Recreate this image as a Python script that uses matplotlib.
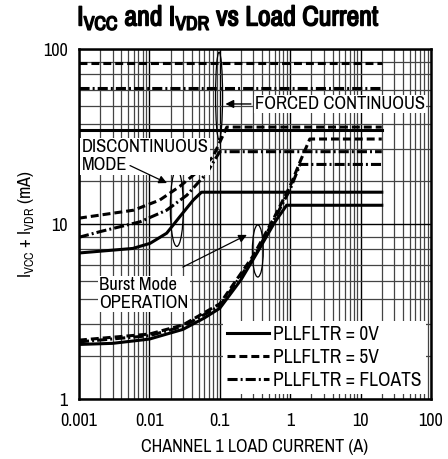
import numpy as np
import matplotlib
matplotlib.use('Agg')
import matplotlib.pyplot as plt
import matplotlib.patheffects as pe
from matplotlib.patches import Ellipse
from matplotlib.ticker import FixedLocator, NullFormatter

plt.rcParams['font.family'] = ['Archivo Narrow', 'DejaVu Sans']
plt.rcParams['mathtext.fontset'] = 'custom'
plt.rcParams['mathtext.rm'] = 'Archivo Narrow'
plt.rcParams['mathtext.bf'] = 'Archivo Narrow'

# forced continuous (flat)
fc_x = [0.001, 20]
fc_0v = [34.5, 34.5]
fc_5v = [82.8, 82.8]
fc_float = [59.6, 59.6]

# discontinuous mode
dm_0v_x = [0.001, 0.0058, 0.0102, 0.0176, 0.027, 0.042, 0.055, 20]
dm_0v_y = [6.83, 7.25, 7.75, 8.86, 11.0, 13.7, 15.2, 15.2]
dm_5v_x = [0.001, 0.006, 0.014, 0.027, 0.052, 0.08, 0.126, 20]
dm_5v_y = [10.8, 12.0, 13.7, 16.4, 20.4, 24.2, 35.8, 35.8]
dm_fl_x = [0.001, 0.002, 0.0074, 0.0176, 0.034, 0.065, 0.09, 0.1, 20]
dm_fl_y = [8.4, 9.05, 10.3, 12.0, 14.6, 19.5, 24.2, 25.9, 25.9]

# burst mode operation
bm_0v_x = [0.001, 0.003, 0.01, 0.03, 0.06, 0.1, 0.2, 0.35, 0.6, 0.89, 20]
bm_0v_y = [2.05, 2.08, 2.2, 2.5, 2.9, 3.3, 4.8, 7.0, 10.2, 12.8, 12.8]
bm_5v_x = [0.001, 0.01, 0.03, 0.1, 0.3, 0.6, 1.0, 1.4, 1.9, 20]
bm_5v_y = [2.17, 2.35, 2.65, 3.5, 6.6, 11.0, 16.5, 23.0, 30.6, 30.6]
bm_fl_x = [0.001, 0.01, 0.03, 0.1, 0.3, 0.6, 1.0, 1.38, 20]
bm_fl_y = [2.12, 2.3, 2.6, 3.4, 6.4, 10.7, 15.8, 21.9, 21.9]

x_ticks = [0.001, 0.01, 0.1, 1, 10, 100]
x_labels = ['0.001', '0.01', '0.1', '1', '10', '100']
y_ticks = [1, 10, 100]
y_labels = ['1', '10', '100']
# horizontal grid positions as drawn on the sheet
y_grid = [1.77, 2.69, 3.72, 4.71, 5.83, 7.2, 8.43,
          17.7, 26.9, 37.2, 47.1, 58.3, 72.0, 84.3]

fig = plt.figure(figsize=(4.48, 4.59), dpi=100)
ax = fig.add_axes([0.1763, 0.1307, 0.7857, 0.7625])
ax.set_xscale('log')
ax.set_yscale('log')
ax.set_xlim(0.001, 100)
ax.set_ylim(1, 100)

ax.set_xticks(x_ticks)
ax.set_xticklabels(x_labels)
ax.set_yticks(y_ticks)
ax.set_yticklabels(y_labels)
ax.yaxis.set_minor_locator(FixedLocator(y_grid))
ax.yaxis.set_minor_formatter(NullFormatter())
ax.xaxis.set_minor_formatter(NullFormatter())
ax.tick_params(which='both', length=0, labelsize=13)
ax.tick_params(axis='x', pad=10)
ax.tick_params(axis='y', pad=8)
ax.grid(which='major', color='black', lw=1.0)
ax.grid(which='minor', color='#444444', lw=0.9)
ax.set_axisbelow(True)
for s in ax.spines.values():
    s.set_linewidth(1.8)

lw = 2.2
dash = (2.6, 1.3)
dashdot = (3.3, 1.0, 0.65, 1.0)

ax.plot(fc_x, fc_0v, color='black', lw=lw, label='PLLFLTR = 0V')
ax.plot(fc_x, fc_5v, color='black', lw=lw, dashes=dash, label='PLLFLTR = 5V')
ax.plot(fc_x, fc_float, color='black', lw=lw, dashes=dashdot, label='PLLFLTR = FLOATS')

ax.plot(dm_0v_x, dm_0v_y, color='black', lw=lw)
ax.plot(dm_5v_x, dm_5v_y, color='black', lw=lw, dashes=dash)
ax.plot(dm_fl_x, dm_fl_y, color='black', lw=lw, dashes=dashdot)

ax.plot(bm_0v_x, bm_0v_y, color='black', lw=lw)
ax.plot(bm_5v_x, bm_5v_y, color='black', lw=lw, dashes=dash)
ax.plot(bm_fl_x, bm_fl_y, color='black', lw=lw, dashes=dashdot)

# ellipses (axes fractions)
for cx, cy, w, h in [(0.398, 0.866, 0.02, 0.25),
                     (0.278, 0.546, 0.037, 0.22),
                     (0.508, 0.423, 0.031, 0.149)]:
    ax.add_patch(Ellipse((cx, cy), w, h, transform=ax.transAxes,
                         fill=False, ec='black', lw=0.9, zorder=5))

box = dict(facecolor='white', edgecolor='none', pad=1.0)
ax.annotate('FORCED CONTINUOUS', xy=(0.416, 0.843), xytext=(0.5, 0.843),
            xycoords='axes fraction', textcoords='axes fraction',
            ha='left', va='center', fontsize=13.4, bbox=box,
            arrowprops=dict(arrowstyle='-|>', color='black', lw=1.0,
                            shrinkA=2, shrinkB=0, mutation_scale=12), zorder=6)
ax.text(0.008, 0.694, 'DISCONTINUOUS\nMODE', transform=ax.transAxes,
        ha='left', va='center', fontsize=13.4, linespacing=1.2, bbox=box, zorder=6)
ax.annotate('', xy=(0.25, 0.617), xytext=(0.145, 0.667),
            xycoords='axes fraction', textcoords='axes fraction',
            arrowprops=dict(arrowstyle='-|>', color='black', lw=0.9,
                            shrinkA=0, shrinkB=0, mutation_scale=12), zorder=6)
ax.text(0.057, 0.30, 'Burst Mode\nOPERATION', transform=ax.transAxes,
        ha='left', va='center', fontsize=13.4, linespacing=1.15, bbox=box, zorder=6)
ax.annotate('', xy=(0.477, 0.469), xytext=(0.295, 0.377),
            xycoords='axes fraction', textcoords='axes fraction',
            arrowprops=dict(arrowstyle='-|>', color='black', lw=0.9,
                            shrinkA=0, shrinkB=0, mutation_scale=12), zorder=6)

leg = ax.legend(loc='lower right', bbox_to_anchor=(0.985, 0.015), fontsize=14,
                frameon=True, fancybox=False, handlelength=2.2,
                handletextpad=0.2, labelspacing=0.2, borderpad=0.2,
                borderaxespad=0)
leg.get_frame().set_edgecolor('none')
leg.get_frame().set_facecolor('white')
leg.get_frame().set_alpha(1)

ax.set_xlabel('CHANNEL 1 LOAD CURRENT (A)', fontsize=13, labelpad=7)
ax.set_ylabel(r'I$_{\rm VCC}$ + I$_{\rm VDR}$ (mA)', fontsize=13, labelpad=5)
title = fig.text(0.51, 0.961, r'$\mathbf{I_{VCC}}$ and $\mathbf{I_{VDR}}$ vs Load Current',
                 ha='center', va='center', fontsize=20, fontweight='bold')
title.set_path_effects([pe.withStroke(linewidth=1.1, foreground='black')])

fig.savefig('out.png', dpi=100)
